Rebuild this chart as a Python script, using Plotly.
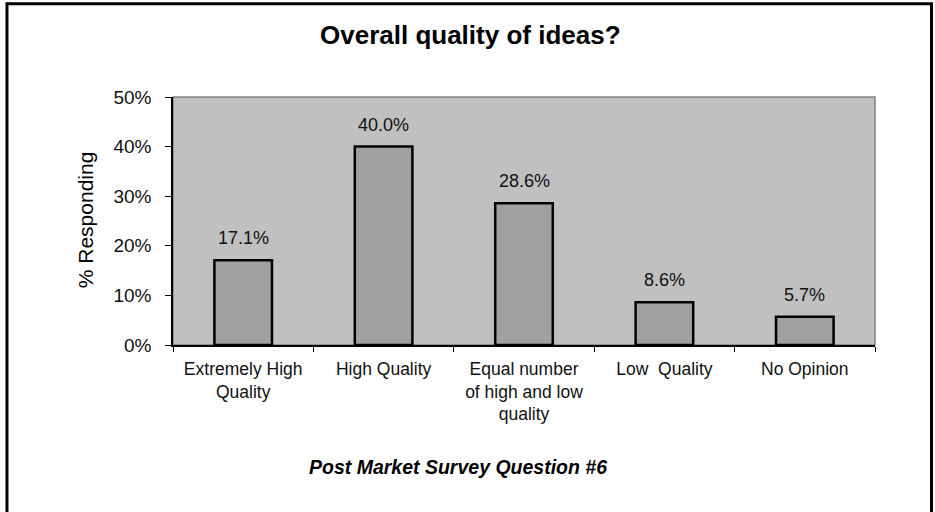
import plotly.graph_objects as go

# Survey responses
categories = [
    "Extremely High<br>Quality",
    "High Quality",
    "Equal number<br>of high and low<br>quality",
    "Low  Quality",
    "No Opinion",
]
percent_responding = [17.1, 40.0, 28.6, 8.6, 5.7]
y_ticks = [0, 10, 20, 30, 40, 50]
y_tick_text = [f"{v}%" for v in y_ticks]

FONT = "Liberation Sans, Arial, sans-serif"

fig = go.Figure()
fig.add_trace(go.Bar(
    x=categories,
    y=percent_responding,
    width=0.41,
    marker=dict(color="#a0a0a0", line=dict(color="#000000", width=2.5)),
    hoverinfo="skip",
))

# value labels above each bar
for cat, val in zip(categories, percent_responding):
    fig.add_annotation(
        x=cat, y=val, xref="x", yref="y",
        text=f"{val:.1f}%", showarrow=False,
        yanchor="bottom", yshift=10,
        font=dict(family=FONT, size=18, color="#111111"),
    )

# chart title and footer
fig.add_annotation(
    x=0.4245, y=1.25, xref="paper", yref="paper",
    text="<b>Overall quality of ideas?</b>", showarrow=False,
    xanchor="center", yanchor="middle",
    font=dict(family=FONT, size=26, color="#000000"),
)
fig.add_annotation(
    x=0.406, y=-0.492, xref="paper", yref="paper",
    text="<b><i>Post Market Survey Question #6</i></b>", showarrow=False,
    xanchor="center", yanchor="middle",
    font=dict(family=FONT, size=19.5, color="#000000"),
)
# y-axis title
fig.add_annotation(
    x=-0.125, y=0.504, xref="paper", yref="paper",
    text="% Responding", showarrow=False, textangle=-90,
    xanchor="center", yanchor="middle",
    font=dict(family=FONT, size=21, color="#000000"),
)

# plot area frame
fig.add_shape(type="rect", xref="paper", yref="paper",
              x0=0, x1=1, y0=0, y1=1,
              line=dict(color="#808080", width=1.5), layer="below")
# outer frame (left, top, right)
fig.add_shape(type="path", xref="paper", yref="paper",
              path="M -0.2365 -0.75 L -0.2365 1.376 L 1.0805 1.376 L 1.0805 -0.75",
              line=dict(color="#000000", width=3))

fig.update_layout(
    width=935, height=512,
    margin=dict(l=173, r=60, t=97, b=167),
    paper_bgcolor="#ffffff",
    plot_bgcolor="#c0c0c0",
    showlegend=False,
    bargap=0.59,
    font=dict(family=FONT, color="#111111"),
)
fig.update_xaxes(
    type="category",
    tickson="boundaries",
    ticks="outside", ticklen=5, tickcolor="#000000", tickwidth=1,
    showline=True, linecolor="#000000", linewidth=1.5,
    showgrid=False,
    ticklabelstandoff=7,
    tickfont=dict(family=FONT, size=17.5, color="#111111"),
    fixedrange=True,
)
fig.update_yaxes(
    range=[0, 50],
    tickvals=y_ticks,
    ticktext=y_tick_text,
    ticks="outside", ticklen=6, tickcolor="#000000", tickwidth=1,
    showline=True, linecolor="#000000", linewidth=1.5,
    showgrid=False, zeroline=False,
    ticklabelstandoff=10,
    tickfont=dict(family=FONT, size=19, color="#111111"),
    fixedrange=True,
)

fig.write_html("out.html")
